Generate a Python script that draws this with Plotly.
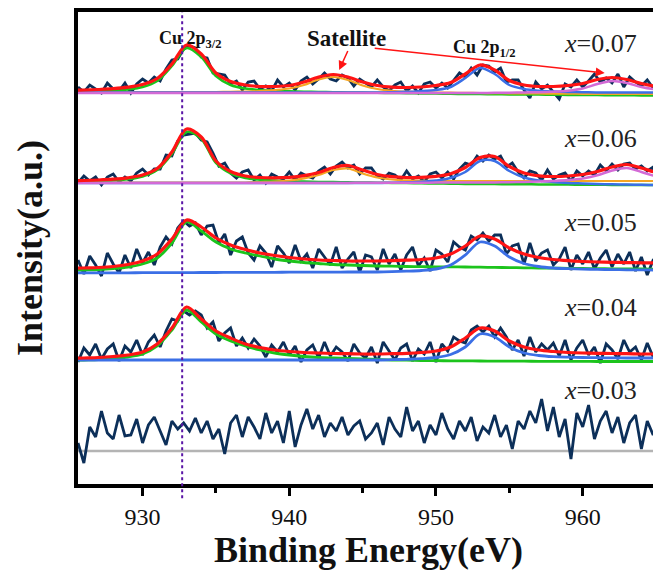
import plotly.graph_objects as go

# ---------------- data (intensity above each spectrum's own baseline, a.u.) ----------------
energy_raw = [round(925.6 + 0.4 * i, 1) for i in range(100)]   # binding energy grid of raw scans (eV)
fit_energy = list(range(925, 967))                                # grid of fitted curves (eV)

raw_007 = [6, 1, 8, 4, 0, 10, 4, 2, 10, 0,
           9, 14, 10, 16, 12, 24, 33, 34, 44, 47,
           45, 36, 35, 20, 19, 18, 9, 12, 3, 11,
           12, 4, 7, 2, 13, 6, 10, 3, 12, 16,
           9, 14, 20, 14, 12, 18, 15, 7, 14, 10,
           6, 13, 6, 2, 8, 11, 2, 7, 0, 9,
           11, 5, 10, 5, 13, 20, 16, 25, 18, 28,
           27, 21, 25, 11, 13, 13, 3, -5, 11, 4,
           8, 1, -6, 9, 6, 13, 6, 12, 19, 11,
           15, 10, 19, 6, 16, 11, 7, 13, 5, 10]
raw_006 = [0, 7, 2, 6, -2, 6, 9, 1, 6, 2,
           10, 14, 8, 14, 14, 28, 27, 42, 48, 49,
           50, 43, 41, 30, 17, 20, 10, 5, 11, 13,
           3, 8, 0, 9, 6, 4, 11, 3, 10, 7,
           5, 12, 16, 9, 17, 21, 15, 18, 9, 15,
           15, 7, 4, 10, 8, 3, 12, 4, 7, 1,
           9, 11, 5, 11, 4, 14, 20, 18, 27, 22,
           28, 24, 27, 16, 20, 11, 5, 12, 10, 3,
           13, 4, 8, 10, 2, 12, 7, 12, 8, 18,
           12, 19, 13, 19, 20, 14, 17, 12, 16, -7]
raw_005 = [13, -1, 17, 8, -3, 20, 9, 0, 18, 5,
           24, 10, 21, 8, 26, 36, 29, 45, 52, 47,
           50, 38, 47, 48, 30, 39, 18, 32, 36, 20,
           13, 27, 20, 6, 27, 20, 10, 28, 12, 19,
           5, 24, 16, 8, 26, 5, 14, 21, 1, 18,
           16, 3, 24, 9, 19, 3, 18, 26, 7, 15,
           2, 23, 19, 11, 31, 26, 23, 37, 33, 40,
           32, 38, 38, 19, 27, 29, 9, 30, 12, 20,
           23, 8, 14, 26, 3, 18, 9, 21, 4, 15,
           23, 6, 19, 9, 21, 2, 16, -2, 13, 19]
raw_004 = [0, 14, 7, 18, 3, 13, 18, 1, 16, 10,
           22, 7, 20, 27, 15, 31, 43, 41, 51, 47,
           51, 47, 34, 40, 21, 29, 34, 16, 24, 14,
           23, 16, 5, 17, 10, 20, 7, 16, 0, 12,
           17, 4, 20, 6, 15, 10, 1, 18, 9, 4,
           15, -1, 20, 11, 2, 14, 18, 1, 13, 8,
           20, 0, 18, 11, 25, 21, 19, 32, 36, 30,
           36, 25, 34, 25, 12, 22, 6, 25, 10, 18,
           12, 19, 6, 22, 2, 14, 22, 7, 15, -1,
           18, 12, 3, 22, 10, 15, 2, 19, 5, 16]
raw_003 = [8, -12, 24, 14, 40, 18, 12, 36, 15, 16,
           32, 8, 26, 34, 20, 6, 30, 22, 28, 20,
           33, 18, 30, 12, 22, -3, 28, 36, 14, 34,
           24, 12, 38, 18, 30, 8, 40, 4, 26, 42,
           22, 36, 14, 28, 20, 34, 16, 25, 30, 12,
           18, 28, 6, 34, 22, 14, 44, 20, 30, 8,
           26, 16, 38, 22, 12, 30, 20, 34, 10, 24,
           18, 36, 14, 26, 2, 30, 22, 40, 28, 52,
           20, 44, 14, 32, -8, 38, 24, 46, 12, 30,
           40, 18, 34, 8, 28, 36, 2, 30, 16, 26]

# fitted components, x = 0.07
green_007 = [0.8, 1.1, 1.5, 2.2, 3.5, 6, 12, 27, 45, 36,
             17, 8, 4.5, 3, 2.2, 1.7, 1.3, 1, 0.8, 0.6,
             0.4, 0.2, 0, -0.2, -0.4, -0.6, -0.8, -1, -1.1, -1.2,
             -1.4, -1.5, -1.6, -1.8, -1.9, -2, -2.1, -2.2, -2.3, -2.4,
             -2.5, -2.6]
orange_007 = [1, 1, 1, 1, 1, 1, 1, 1, 1, 1,
              1, 1.2, 1.5, 2, 3, 4.5, 8, 13.5, 16, 13,
              7.5, 4, 2.2, 1.3, 0.8, 0.5, 0.3, 0.1, 0, -0.2,
              -0.3, -0.4, -0.5, -0.6, -0.7, -0.8, -0.8, -0.9, -0.9, -1,
              -1, -1]
blue_007 = [0.5, 0.5, 0.5, 0.5, 0.5, 0.5, 0.5, 0.5, 0.5, 0.5,
            0.5, 0.5, 0.5, 0.5, 0.5, 0.5, 0.5, 0.5, 0.5, 0.5,
            0.5, 0.5, 0.8, 1.2, 1.8, 3, 6, 15, 25, 19,
            8, 4, 2.3, 1.5, 1, 0.8, 0.5, 0.5, 0.5, 0.5,
            0.5, 0.5]
magenta_007 = [0, 0, 0, 0, 0, 0, 0, 0, 0, 0,
               0, 0, 0, 0, 0, 0, 0, 0, 0, 0,
               0, 0, 0, 0, 0, 0, 0, 0, 0, 0.2,
               0.3, 0.5, 0.8, 1.3, 2.3, 4.5, 9, 12, 10, 6,
               3.5, 2.2]
red_007 = [2.5, 3, 3.5, 4.3, 5.8, 8.5, 14.5, 29, 48, 39,
           20, 11.5, 8, 6.5, 6.5, 7.5, 11, 16, 18.5, 16,
           11, 7.5, 5.8, 5.5, 6, 7.5, 10.5, 19, 28, 23,
           12.5, 8, 6.5, 6.5, 7.5, 9.5, 13.5, 15.5, 13.5, 9.5,
           6.5, 5]

# fitted components, x = 0.06
green_006 = [0.8, 1.1, 1.6, 2.4, 3.8, 6.5, 13, 29, 51, 44,
             20, 9.5, 5, 3.3, 2.4, 1.8, 1.4, 1.1, 0.9, 0.7,
             0.5, 0.3, 0.1, -0.1, -0.3, -0.5, -0.7, -0.9, -1, -1.1,
             -1.2, -1.3, -1.4, -1.5, -1.6, -1.7, -1.8, -1.9, -2, -2,
             -2, -2]
orange_006 = [0.5, 0.5, 0.5, 0.5, 0.5, 0.5, 0.5, 0.5, 0.5, 0.5,
              0.5, 0.5, 0.5, 1, 1.5, 2.5, 4.6, 8, 13, 14.5,
              9.5, 5.5, 3.5, 2.6, 2.2, 2, 2, 2, 2, 2,
              2, 2, 2, 2, 2, 2, 2, 2, 2, 2,
              2, 2]
blue_006 = [0, 0, 0, 0, 0, 0, 0, 0, 0, 0,
            0, 0, 0, 0, 0, 0, 0, 0, 0, 0,
            0, 0, 0.3, 0.7, 1.3, 2.5, 5, 11, 22, 22,
            12, 5.5, 2.5, 1, 0, -0.5, -1, -1.3, -1.6, -1.8,
            -2, -2]
magenta_006 = [0, 0, 0, 0, 0, 0, 0, 0, 0, 0,
               0, 0, 0, 0, 0, 0, 0, 0, 0, 0.1,
               0.2, 0.2, 0.3, 0.3, 0.3, 0.4, 0.4, 0.5, 0.5, 0.6,
               0.8, 1, 1.4, 2, 2.9, 4.6, 7.7, 12.5, 15, 11,
               6.6, 4]
red_006 = [2, 2.5, 3, 3.8, 5.2, 8, 14.5, 31, 54, 46,
           22, 11.5, 7, 5.5, 5.2, 5.7, 7.3, 10.5, 15.5, 17.5,
           13, 8.5, 6.3, 5.5, 5.6, 6.6, 9.3, 15.5, 25.5, 26.5,
           16.5, 10, 7.2, 6.5, 7, 8.5, 11.5, 16, 18.5, 15,
           10.5, 7.5]

# fitted components, x = 0.05
green_005 = [2.5, 3, 3.5, 4.5, 6, 9, 15, 30, 51, 42,
             31, 24, 20, 17, 14, 12, 10.5, 9.5, 8.5, 8,
             7.5, 7, 6.8, 6.5, 6.3, 6.2, 6.1, 6, 5.8, 5.6,
             5.4, 5.2, 5, 4.8, 4.7, 4.5, 4.4, 4.2, 4.1, 4,
             3.9, 3.8]
blue_005 = [0, 0.1, 0.1, 0.2, 0.2, 0.3, 0.3, 0.4, 0.4, 0.5,
            0.5, 0.6, 0.6, 0.7, 0.7, 0.8, 0.8, 0.9, 0.9, 1,
            1, 1, 1.3, 1.8, 2.5, 4, 8, 18, 31, 27,
            16, 9.5, 6.5, 5, 4.3, 3.9, 3.6, 3.4, 3.2, 3.1,
            3, 3]
red_005 = [4.5, 5, 5.5, 6.5, 8.5, 12, 19, 34, 53, 46,
           35, 28, 23.5, 20, 17.5, 15.5, 14, 13, 12.5, 12,
           12, 12, 12.3, 12.8, 13.5, 15, 19, 27, 37, 34,
           25, 19, 15.5, 13.5, 12.3, 11.5, 11, 10.7, 10.4, 10.2,
           10, 10]

# fitted components, x = 0.04
green_004 = [1.5, 2, 2.5, 3.5, 5, 8, 16, 32, 52, 40,
             28, 21, 16, 12, 9, 7, 5.5, 4.5, 4, 3.5,
             3, 2.5, 2, 1.8, 1.5, 1.3, 1.2, 1.1, 1, 0.9,
             0.8, 0.8, 0.7, 0.7, 0.6, 0.6, 0.5, 0.5, 0.5, 0.5,
             0.5, 0.5]
blue_004 = [2, 2, 2, 2, 2, 2, 2, 2, 2, 2,
            2, 2, 2, 2, 2, 2, 2, 2, 2, 2,
            2, 2, 2.3, 2.7, 3.3, 4.5, 7.5, 15, 28, 25,
            15, 9, 6.5, 5.3, 4.8, 4.5, 4.3, 4.1, 4, 4,
            4, 4]
red_004 = [3.5, 4, 4.5, 5.5, 7, 10, 18, 34, 55, 43,
           31, 24, 18, 14.5, 12, 10.5, 9.5, 9, 8.5, 8.3,
           8, 8, 8.3, 8.7, 9.5, 11, 15, 24, 34, 31,
           21, 15, 12, 10.5, 9.5, 9, 8.7, 8.5, 8.3, 8,
           8, 8]

# flat reference line of the x = 0.03 scan
base_003 = [0] * len(fit_energy)

sample_labels = ["0.07", "0.06", "0.05", "0.04", "0.03"]
cu_2p32_energy = 932.7
x_ticks = [930, 940, 950, 960]

# ---------------- layout constants (vertical stacking of the scans) ----------------
offsets = {"0.07": 391, "0.06": 301, "0.05": 211, "0.04": 122, "0.03": 33}
label_y = {"0.07": 441, "0.06": 346, "0.05": 262, "0.04": 177, "0.03": 94}

RAW = "#0c2f59"
RED = "#ff1414"
GREEN = "#1cc41c"
BLUE = "#3b6fe6"
ORANGE = "#f6a623"
MAGENTA = "#d36ad6"
GREY = "#b4b4b4"
SERIF = "Liberation Serif"

fig = go.Figure()

def add(x, y, off, color, width, smooth=True):
    fig.add_trace(go.Scatter(
        x=x, y=[v + off for v in y], mode="lines",
        line=dict(color=color, width=width, shape="spline" if smooth else "linear", smoothing=0.9),
        showlegend=False, hoverinfo="skip"))

raws = {"0.07": raw_007, "0.06": raw_006, "0.05": raw_005, "0.04": raw_004, "0.03": raw_003}

for s in sample_labels:
    if s == "0.03":
        add(fit_energy, base_003, offsets[s], GREY, 2.5, smooth=False)
    add(energy_raw, raws[s], offsets[s], RAW, 2.8, smooth=False)

o = offsets["0.07"]
add(fit_energy, green_007, o, GREEN, 2.5)
add(fit_energy, orange_007, o, ORANGE, 2.2)
add(fit_energy, blue_007, o, BLUE, 2.5)
add(fit_energy, magenta_007, o, MAGENTA, 2.5)
add(fit_energy, red_007, o, RED, 3.2)

o = offsets["0.06"]
add(fit_energy, green_006, o, GREEN, 2.5)
add(fit_energy, orange_006, o, ORANGE, 2.2)
add(fit_energy, blue_006, o, BLUE, 2.5)
add(fit_energy, magenta_006, o, MAGENTA, 2.5)
add(fit_energy, red_006, o, RED, 3.2)

o = offsets["0.05"]
add(fit_energy, green_005, o, GREEN, 2.8)
add(fit_energy, blue_005, o, BLUE, 2.8)
add(fit_energy, red_005, o, RED, 3.2)

o = offsets["0.04"]
add(fit_energy, green_004, o, GREEN, 2.8)
add(fit_energy, blue_004, o, BLUE, 2.8)
add(fit_energy, red_004, o, RED, 3.2)

annotations = []
for s in sample_labels:
    annotations.append(dict(x=961.2, y=label_y[s], xref="x", yref="y",
                            text=f"<i>x</i>=" + s, showarrow=False,
                            font=dict(family=SERIF, size=26, color="#222222")))

annotations += [
    dict(x=933.3, y=445, xref="x", yref="y", text="<b>Cu 2p<sub>3/2</sub></b>", showarrow=False,
         font=dict(family=SERIF, size=18, color="#111111")),
    dict(x=953.3, y=436, xref="x", yref="y", text="<b>Cu 2p<sub>1/2</sub></b>", showarrow=False,
         font=dict(family=SERIF, size=18, color="#111111")),
    dict(x=943.9, y=446, xref="x", yref="y", text="<b>Satellite</b>", showarrow=False,
         font=dict(family=SERIF, size=23, color="#111111")),
]

arrows = [
    dict(x=943.4, y=414, ax=10, ay=-22),
    dict(x=961.5, y=411, ax=-232, ay=-25),
]
for a in arrows:
    annotations.append(dict(x=a["x"], y=a["y"], xref="x", yref="y", text=" ", showarrow=True,
                            ax=a["ax"], ay=a["ay"], arrowcolor=RED, arrowwidth=1.5,
                            arrowhead=2, arrowsize=1.2, font=dict(size=2)))

fig.add_shape(type="line", x0=cu_2p32_energy, x1=cu_2p32_energy, xref="x",
              y0=-0.03, y1=1, yref="paper",
              line=dict(color="#5a16a6", width=2, dash="dot"))

# the page body adds an 8 px margin, so the figure is 8 px smaller in each direction
fig.update_layout(
    width=653, height=569,
    margin=dict(l=70, r=2, t=4, b=93),
    paper_bgcolor="white", plot_bgcolor="white",
    annotations=annotations,
    xaxis=dict(range=[925.6, 965.2], tickvals=x_ticks, ticks="outside", ticklen=8, tickwidth=3,
               tickcolor="black", showline=True, linewidth=3.5, linecolor="black", mirror=True,
               showgrid=False, zeroline=False, automargin=False,
               minor=dict(dtick=5, tick0=925, ticks="outside", ticklen=5, tickwidth=2.5, tickcolor="black"),
               tickfont=dict(family=SERIF, size=24, color="#111111"),
               title=dict(text="<b>Binding Energy(eV)</b>", standoff=8,
                          font=dict(family=SERIF, size=36, color="#111111"))),
    yaxis=dict(range=[0, 472], showticklabels=False, ticks="", showline=True, linewidth=3.5,
               linecolor="black", mirror=True, showgrid=False, zeroline=False, automargin=False,
               title=dict(text="<b>Intensity(a.u.)</b>", standoff=22,
                          font=dict(family=SERIF, size=36, color="#111111"))),
)

fig.write_html("out.html")
